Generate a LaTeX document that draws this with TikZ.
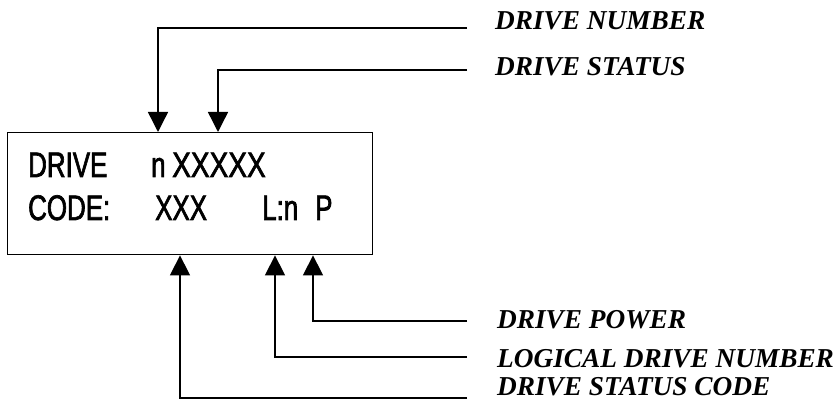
\documentclass[tikz,border=0pt]{standalone}
\usepackage{fontspec}
\setmainfont{Liberation Serif}
\newfontfamily\lcdfont[FakeStretch=0.73,FakeBold=1.8]{Liberation Sans}
\newfontfamily\lcdwide[FakeStretch=0.79,FakeBold=1.8]{Liberation Sans}
\usetikzlibrary{arrows.meta}
\begin{document}
\begin{tikzpicture}[x=1pt,y=-1pt,
  lcd/.style={font=\lcdfont\fontsize{35.5}{35.5}\selectfont, anchor=base west, inner sep=0pt},
  lcdw/.style={font=\lcdwide\fontsize{35.5}{35.5}\selectfont, anchor=base west, inner sep=0pt},
  lab/.style={font=\fontsize{27.3}{27.3}\selectfont\bfseries\itshape, anchor=base west, inner sep=0pt},
  conn/.style={line width=1.4pt, -{Triangle[length=20pt,width=20pt]}}]
\useasboundingbox (0,0) rectangle (838,403);
\node[draw, line width=1.4pt, minimum width=365pt, minimum height=122pt, anchor=north west, inner sep=0pt] (box) at (7,132) {};
% display text
\node[lcd] (drive) at (28,177) {DRIVE};
\node[lcd] (n) at (151,177) {n};
\node[lcdw] (xs5) at (172,177) {XXXXX};
\node[lcd] (code) at (28,220) {CODE:};
\node[lcd] (xs3) at (155,220) {XXX};
\node[lcd] (ln) at (262,220) {L:n};
\node[lcd] (p) at (315,220) {P};
% labels
\node[lab] (l1) at (495,30) {DRIVE NUMBER};
\node[lab] (l2) at (495,76) {DRIVE STATUS};
\node[lab] (l3) at (497,329) {DRIVE POWER};
\node[lab] (l4) at (497,367) {LOGICAL DRIVE NUMBER};
\node[lab] (l5) at (497,395) {DRIVE STATUS CODE};
% connector ends
\coordinate (e1) at (467,28);
\coordinate (e2) at (467,70);
\coordinate (e3) at (467,321);
\coordinate (e4) at (467,357);
\coordinate (e5) at (467,398);
\draw[conn] (e1) -| ([xshift=151pt]box.north west);
\draw[conn] (e2) -| ([xshift=211pt]box.north west);
\draw[conn] (e3) -| ([xshift=306pt]box.south west);
\draw[conn] (e4) -| ([xshift=268pt]box.south west);
\draw[conn] (e5) -| ([xshift=173pt]box.south west);
\end{tikzpicture}
\end{document}
